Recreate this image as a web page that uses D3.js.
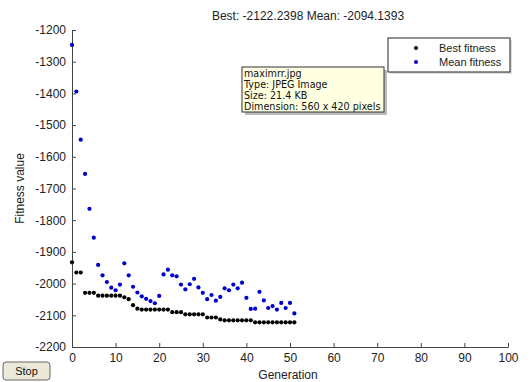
<!DOCTYPE html>
<html>
<head>
<meta charset="utf-8">
<script src="https://cdn.jsdelivr.net/npm/d3@7"></script>
<style>
body { margin: 0; background: #fff; }
svg { display: block; font-family: "Liberation Sans", Arial, sans-serif; }
</style>
</head>
<body>
<svg id="chart" width="531" height="382"></svg>
<script>
// generations 0..51
var generations = d3.range(0, 52);

var bestFitness = [
	-1933, -1965, -1965, -2029, -2029, -2029, -2038, -2038, -2038, -2038,
	-2038, -2038, -2043, -2049, -2068, -2079, -2082, -2082, -2082, -2082,
	-2082, -2082, -2082, -2090, -2090, -2090, -2097, -2097, -2097, -2097,
	-2097, -2107, -2107, -2107, -2113, -2116, -2116, -2116, -2116, -2116,
	-2116, -2116, -2122.24, -2122.24, -2122.24, -2122.24, -2122.24, -2122.24, -2122.24, -2122.24,
	-2122.24, -2122.24
];

var meanFitness = [
	-1247, -1394, -1546, -1654, -1764, -1855, -1941, -1974, -1995, -2013,
	-2021, -2003, -1936, -1974, -2010, -2028, -2040, -2048, -2055, -2062,
	-2039, -1971, -1956, -1974, -1977, -2003, -2018, -2002, -1985, -2012,
	-2029, -2049, -2036, -2054, -2042, -2015, -2021, -2003, -2015, -1997,
	-2045, -2080, -2079, -2026, -2053, -2077, -2071, -2082, -2061, -2077,
	-2061, -2094.14
];

var xTicks = [0, 10, 20, 30, 40, 50, 60, 70, 80, 90, 100];
var yTicks = [-2200, -2100, -2000, -1900, -1800, -1700, -1600, -1500, -1400, -1300, -1200];

var seriesNames = ["Best fitness", "Mean fitness"];
var seriesColors = ["#000000", "#0000cc"];

var tooltipLines = ["maximrr.jpg", "Type: JPEG Image", "Size: 21.4 KB", "Dimension: 560 x 420 pixels"];

var svg = d3.select("#chart");
var margin = {top: 30, right: 23, bottom: 35, left: 72};
var width = 531 - margin.left - margin.right;
var height = 382 - margin.top - margin.bottom;

var xScale = d3.scaleLinear().domain([0, 100]).range([margin.left, margin.left + width]);
var yScale = d3.scaleLinear().domain([-2200, -1200]).range([margin.top + height, margin.top]);

// axes, ticks pointing into the plot; plain hyphen for negatives like matlab
var plain = function(d) { return String(d); };
var xAxis = d3.axisBottom(xScale).tickValues(xTicks).tickFormat(plain).tickSizeInner(-4).tickSizeOuter(0).tickPadding(6);
var yAxis = d3.axisLeft(yScale).tickValues(yTicks).tickFormat(plain).tickSizeInner(-4).tickSizeOuter(0).tickPadding(6);

var gx = svg.append("g")
	.attr("transform", "translate(0," + (margin.top + height) + ")")
	.call(xAxis);
var gy = svg.append("g")
	.attr("transform", "translate(" + margin.left + ",0)")
	.call(yAxis);

[gx, gy].forEach(function(g) {
	g.select(".domain").attr("stroke", "#444");
	g.selectAll(".tick line").attr("stroke", "#444");
	g.selectAll(".tick text")
		.attr("fill", "#222")
		.style("font-size", "12px")
		.style("font-family", "Liberation Sans, Arial, sans-serif");
});

// points
var bestData = generations.map(function(g, i) { return {x: g, y: bestFitness[i]}; });
var meanData = generations.map(function(g, i) { return {x: g, y: meanFitness[i]}; });

svg.append("g").selectAll("circle")
	.data(meanData)
	.enter()
	.append("circle")
	.attr("cx", d => xScale(d.x))
	.attr("cy", d => yScale(d.y))
	.attr("r", 2.1)
	.attr("fill", seriesColors[1]);

svg.append("g").selectAll("circle")
	.data(bestData)
	.enter()
	.append("circle")
	.attr("cx", d => xScale(d.x))
	.attr("cy", d => yScale(d.y))
	.attr("r", 2.1)
	.attr("fill", seriesColors[0]);

// title
svg.append("text")
	.attr("x", 308)
	.attr("y", 20)
	.attr("text-anchor", "middle")
	.style("font-size", "12px")
	.attr("fill", "#222")
	.text("Best: -2122.2398 Mean: -2094.1393");

// axis labels
svg.append("text")
	.attr("x", 288)
	.attr("y", 379)
	.attr("text-anchor", "middle")
	.style("font-size", "12px")
	.attr("fill", "#222")
	.text("Generation");

svg.append("text")
	.attr("transform", "translate(24," + (margin.top + height / 2) + ") rotate(-90)")
	.attr("text-anchor", "middle")
	.style("font-size", "12px")
	.attr("fill", "#222")
	.text("Fitness value");

// legend
var legend = svg.append("g").attr("transform", "translate(388,38)");
legend.append("rect")
	.attr("x", 2).attr("y", 2)
	.attr("width", 122).attr("height", 34)
	.attr("fill", "#ddd");
legend.append("rect")
	.attr("width", 122).attr("height", 34)
	.attr("fill", "#fff")
	.attr("stroke", "#222");
seriesNames.forEach(function(name, i) {
	legend.append("circle")
		.attr("cx", 28).attr("cy", 10 + i * 14)
		.attr("r", 2)
		.attr("fill", seriesColors[i]);
	legend.append("text")
		.attr("x", 51).attr("y", 14 + i * 14)
		.style("font-size", "11px")
		.attr("fill", "#222")
		.text(name);
});

// the image tooltip sitting over the plot
var tip = svg.append("g").attr("transform", "translate(242,67)");
tip.append("rect")
	.attr("x", 3).attr("y", 3)
	.attr("width", 142).attr("height", 45)
	.attr("fill", "#bbb");
tip.append("rect")
	.attr("width", 142).attr("height", 45)
	.attr("fill", "#ffffe1")
	.attr("stroke", "#333");
tooltipLines.forEach(function(line, i) {
	tip.append("text")
		.attr("x", 2).attr("y", 10 + i * 11)
		.style("font-family", "DejaVu Sans, sans-serif")
		.style("font-size", "9.6px")
		.attr("fill", "#111")
		.text(line);
});

// Stop button
var btn = svg.append("g").attr("transform", "translate(3,362)");
btn.append("rect")
	.attr("width", 47).attr("height", 18)
	.attr("rx", 3)
	.attr("fill", "#ece9d8")
	.attr("stroke", "#666");
btn.append("text")
	.attr("x", 23.5).attr("y", 13)
	.attr("text-anchor", "middle")
	.style("font-size", "11px")
	.attr("fill", "#111")
	.text("Stop");
</script>
</body>
</html>
